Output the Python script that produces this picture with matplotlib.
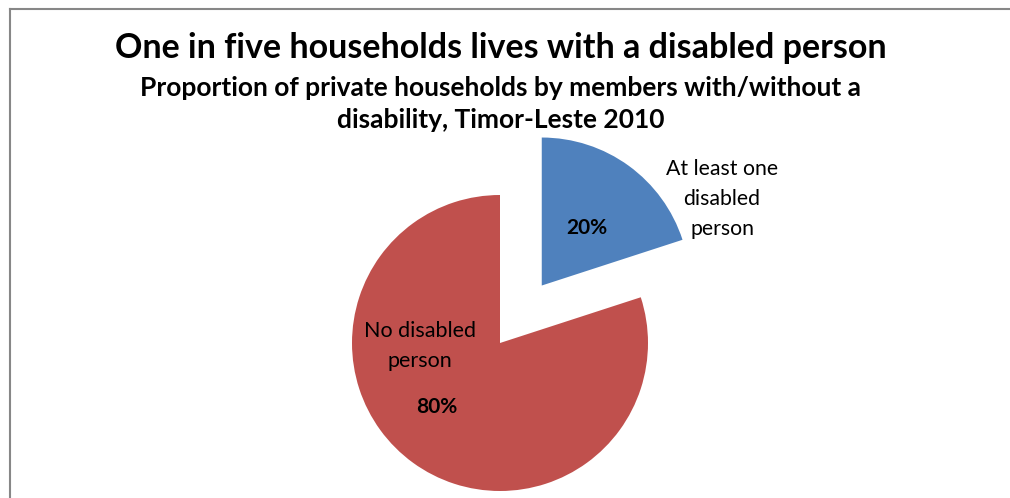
import matplotlib
matplotlib.use("Agg")
import matplotlib.pyplot as plt
from matplotlib.lines import Line2D

categories = ["At least one\ndisabled\nperson", "No disabled\nperson"]
values = [20, 80]
pct_labels = ["20%", "80%"]
colors = ["#4F81BD", "#C0504D"]

title = "One in five households lives with a disabled person"
subtitle = "Proportion of private households by members with/without a\ndisability, Timor-Leste 2010"

W, H = 1010, 498
fig = plt.figure(figsize=(W / 100, H / 100), dpi=100)
ax = fig.add_axes([0, 0, 1, 1])

FONT = "Lato"
cx, cy, R = 500, H - 343, 148
wedges, _ = ax.pie(values, colors=colors, startangle=90, counterclock=False,
                   explode=[0.48 * R, 0], center=(cx, cy), radius=R, frame=True,
                   wedgeprops=dict(linewidth=0))
ax.set_xlim(0, W)
ax.set_ylim(0, H)
ax.set_aspect("equal")
ax.axis("off")

# labels
ax.text(587, H - 228, pct_labels[0], ha="center", va="center", fontsize=15,
        fontweight="bold", family=FONT)
ax.text(722, H - 199, categories[0], ha="center", va="center", fontsize=15.3,
        family=FONT, linespacing=1.6)
ax.text(420, H - 346, categories[1], ha="center", va="center", fontsize=15.5,
        family=FONT, linespacing=1.6)
ax.text(437, H - 407, pct_labels[1], ha="center", va="center", fontsize=15,
        fontweight="bold", family=FONT)

# titles
fig.text(501 / W, 1 - 48 / H, title, ha="center", va="center", fontsize=24.5,
         fontweight="bold", family=FONT)
fig.text(501 / W, 1 - 104 / H, subtitle, ha="center", va="center", fontsize=19,
         fontweight="bold", family=FONT, linespacing=1.35)

# border (top and left visible)
fig.add_artist(Line2D([9.5 / W, 1], [1 - 9.5 / H, 1 - 9.5 / H], transform=fig.transFigure,
                      color="#878787", linewidth=1.5))
fig.add_artist(Line2D([9.5 / W, 9.5 / W], [0, 1 - 9.5 / H], transform=fig.transFigure,
                      color="#878787", linewidth=1.5))

fig.savefig("out.png", dpi=100, facecolor="white")
